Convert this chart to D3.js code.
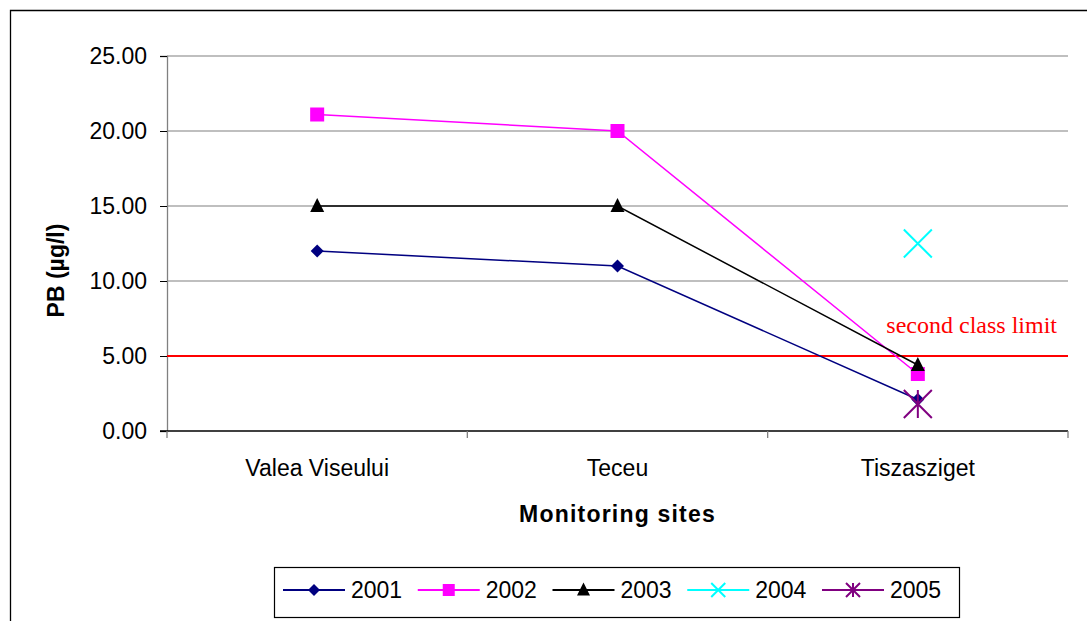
<!DOCTYPE html>
<html><head><meta charset="utf-8">
<script src="https://cdn.jsdelivr.net/npm/d3@7"></script>
<style>body{margin:0;background:#fff}svg{display:block}</style>
</head><body><svg id="c" width="1087" height="621"></svg>
<script>
const categories = ["Valea Viseului", "Teceu", "Tiszasziget"];
const years = ["2001", "2002", "2003", "2004", "2005"];
const s2001 = [12.0, 11.0, 2.1];
const s2002 = [21.1, 20.0, 3.8];
const s2003 = [15.0, 15.0, 4.4];
const s2004 = [null, null, 12.5];
const s2005 = [null, null, 1.8];
const yTicks = [0, 5, 10, 15, 20, 25];
const limitValue = 5.0;
const limitLabel = "second class limit";

const series = [
  {name: years[0], values: s2001, color: "#000080", marker: "diamond"},
  {name: years[1], values: s2002, color: "#FF00FF", marker: "square"},
  {name: years[2], values: s2003, color: "#000000", marker: "triangle"},
  {name: years[3], values: s2004, color: "#00FFFF", marker: "x"},
  {name: years[4], values: s2005, color: "#800080", marker: "star"}
];

const svg = d3.select("#c");
const font = "Arial, 'Liberation Sans', sans-serif";
svg.append("path").attr("d", "M10.5,630 V10.5 H1090").attr("fill","none").attr("stroke","#000").attr("stroke-width",1.3);

const L = 167, R = 1068, T = 56, B = 431;
const x = d3.scaleBand().domain(categories).range([L, R]);
const y = d3.scaleLinear().domain([0, 25]).range([B, T]);
const xc = c => x(c) + x.bandwidth()/2;

svg.append("g").selectAll("line").data(yTicks.filter(t => t > 0)).join("line")
  .attr("x1", L).attr("x2", R).attr("y1", d => y(d)).attr("y2", d => y(d))
  .attr("stroke", "#808080").attr("stroke-width", 1.2);

const ya = svg.append("g").attr("transform", `translate(${L},0)`)
  .call(d3.axisLeft(y).tickValues(yTicks).tickFormat(d3.format(".2f")).tickSize(7).tickPadding(13));
ya.select(".domain").attr("stroke", "#808080").attr("stroke-width", 1.3);
ya.selectAll(".tick line").attr("stroke", "#000");
ya.selectAll("text").attr("font-family", font).attr("font-size", 23).attr("fill", "#000");

const xa = svg.append("g").attr("transform", `translate(0,${B})`)
  .call(d3.axisBottom(x).tickSize(0).tickPadding(26));
xa.select(".domain").remove();
xa.selectAll("text").attr("font-family", font).attr("font-size", 23).attr("fill", "#000").attr("dy", null).attr("y", 45);
svg.append("line").attr("x1", L - 7).attr("x2", R).attr("y1", B).attr("y2", B).attr("stroke", "#000").attr("stroke-width", 1.3);
const bounds = categories.map(c => x(c)).concat([x(categories[categories.length-1]) + x.bandwidth()]);
svg.append("g").selectAll("line").data(bounds).join("line")
  .attr("x1", d => d).attr("x2", d => d).attr("y1", B).attr("y2", B + 7)
  .attr("stroke", "#808080").attr("stroke-width", 1.3);

svg.append("text").attr("x", xc(categories[1])).attr("y", 522).attr("text-anchor", "middle")
  .attr("font-family", font).attr("font-size", 23).attr("font-weight", "bold").attr("letter-spacing", 1.2).text("Monitoring sites");
svg.append("text").attr("transform", `translate(64,${(T+B)/2 + 27}) rotate(-90)`).attr("text-anchor", "middle")
  .attr("font-family", font).attr("font-size", 23).attr("font-weight", "bold").text("PB (µg/l)");

svg.append("line").attr("x1", L).attr("x2", R).attr("y1", y(limitValue)).attr("y2", y(limitValue))
  .attr("stroke", "#FF0000").attr("stroke-width", 2);
svg.append("text").attr("x", 1057).attr("y", 333).attr("text-anchor", "end")
  .attr("font-family", "'Liberation Serif', 'Times New Roman', serif").attr("font-size", 24).attr("fill", "#FF0000").text(limitLabel);

function drawMarker(g, type, color, cx, cy, big) {
  if (type === "diamond") {
    const s = big ? 6.5 : 6;
    g.append("path").attr("d", `M${cx},${cy-s} L${cx+s},${cy} L${cx},${cy+s} L${cx-s},${cy} Z`).attr("fill", color);
  } else if (type === "square") {
    const s = big ? 7 : 6;
    g.append("rect").attr("x", cx-s).attr("y", cy-s).attr("width", 2*s).attr("height", 2*s).attr("fill", color);
  } else if (type === "triangle") {
    const s = big ? 7 : 6.5;
    g.append("path").attr("d", `M${cx},${cy-s-1} L${cx+s},${cy+s-1} L${cx-s},${cy+s-1} Z`).attr("fill", color);
  } else if (type === "x") {
    const s = big ? 14 : 7;
    g.append("path").attr("d", `M${cx-s},${cy-s} L${cx+s},${cy+s} M${cx-s},${cy+s} L${cx+s},${cy-s}`)
      .attr("stroke", color).attr("stroke-width", 2).attr("fill", "none");
  } else if (type === "star") {
    const s = big ? 14 : 7;
    g.append("path").attr("d", `M${cx-s},${cy-s} L${cx+s},${cy+s} M${cx-s},${cy+s} L${cx+s},${cy-s} M${cx},${cy-s} V${cy+s}`)
      .attr("stroke", color).attr("stroke-width", 2).attr("fill", "none");
  }
}

const line = d3.line().defined(d => d.v != null).x(d => xc(d.c)).y(d => y(d.v));
series.forEach(s => {
  const pts = s.values.map((v, i) => ({c: categories[i], v}));
  svg.append("path").datum(pts).attr("d", line).attr("fill", "none").attr("stroke", s.color).attr("stroke-width", 1.5);
  const g = svg.append("g");
  pts.filter(p => p.v != null).forEach(p => drawMarker(g, s.marker, s.color, xc(p.c), y(p.v), true));
});

const lg = svg.append("g");
lg.append("rect").attr("x", 274.5).attr("y", 567.5).attr("width", 685).attr("height", 50).attr("fill", "#fff").attr("stroke", "#000").attr("stroke-width", 1.2);
const lx = d3.scalePoint().domain(years).range([283, 822]);
series.forEach(s => {
  const x0 = lx(s.name), ly = 590;
  lg.append("line").attr("x1", x0).attr("x2", x0 + 62).attr("y1", ly).attr("y2", ly).attr("stroke", s.color).attr("stroke-width", 2);
  drawMarker(lg, s.marker, s.color, x0 + 31, ly, false);
  lg.append("text").attr("x", x0 + 68).attr("y", ly + 8).attr("font-family", font).attr("font-size", 23).text(s.name);
});
</script></body></html>
